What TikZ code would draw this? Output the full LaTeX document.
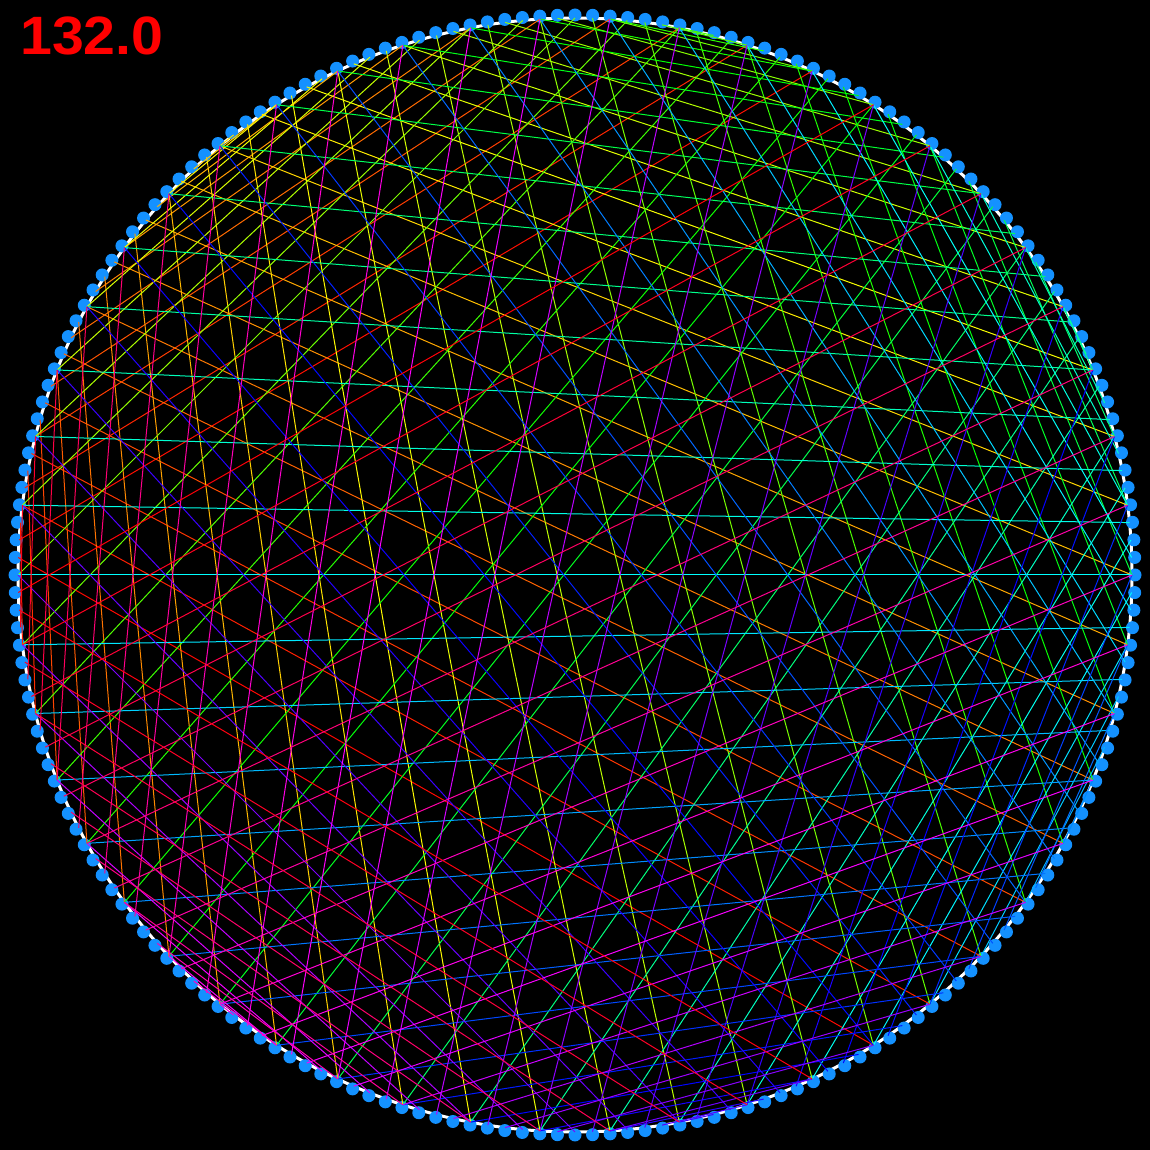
\documentclass[tikz,border=0pt]{standalone}
\usepackage{fontspec}
\setmainfont{Liberation Sans}
\usepackage{xcolor}
\usepackage{tikz}

\definecolor{dotblue}{RGB}{20,145,255}

\begin{document}
\begin{tikzpicture}[x=1bp,y=1bp]
  % Times table 132 on a ring of 200 points.

  \fill[black] (0,0) rectangle (1150,1150);
  \coordinate (O) at (575,575);

  \foreach \k in {0,...,199} {
    \coordinate (p\k) at ({575-557*cos(1.8*\k)},{575+557*sin(1.8*\k)});
    \coordinate (q\k) at ({575-560*cos(1.8*\k)},{575+560*sin(1.8*\k)});
  }

  \draw[white,line width=3bp] (O) circle (557);

  \foreach \k in {0,...,199}
    \fill[dotblue] (q\k) circle (6.5);

  \foreach \k in {0,...,199} {
    \pgfmathtruncatemacro\j{4*mod(33*\k,50)}
    \pgfmathsetmacro\hue{1.8*\k}
    \definecolor{chord}{Hsb}{\hue,1,1}
    \draw[chord,line width=1bp] (p\k) -- (p\j);
  }

  \node[red,font=\bfseries\fontsize{54bp}{54bp}\selectfont,xscale=1.06,
        anchor=base west,inner sep=0] (factor) at (20,1095) {132.0};
\end{tikzpicture}
\end{document}
